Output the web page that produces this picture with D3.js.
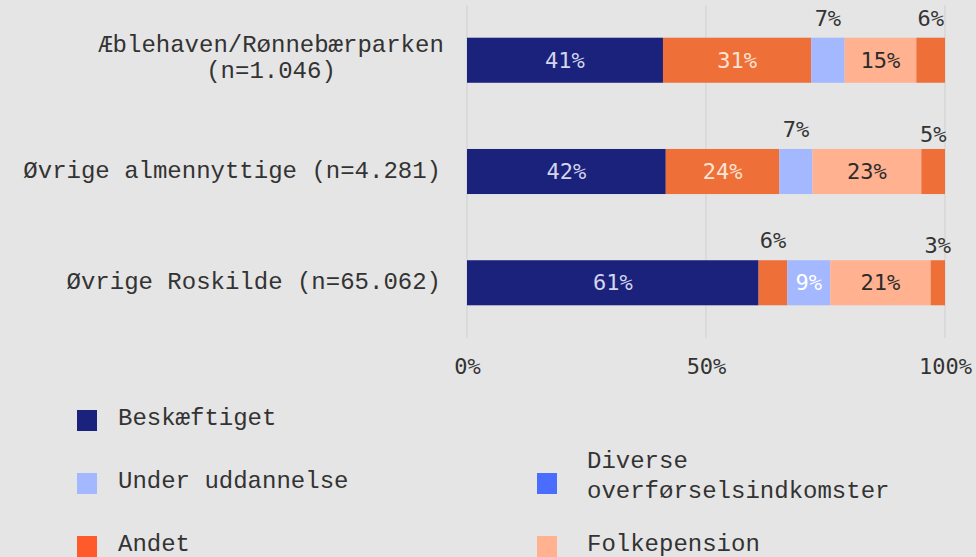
<!DOCTYPE html>
<html>
<head>
<meta charset="utf-8">
<script src="https://cdn.jsdelivr.net/npm/d3@7"></script>
<style>
  html, body { margin: 0; padding: 0; background: #e5e5e5; }
  svg { display: block; }
  text { font-family: "Courier New", "Liberation Mono", monospace; }
  .val { font-family: "DejaVu Sans Mono", "Liberation Mono", monospace; }
</style>
</head>
<body>
<div id="chart"></div>
<script>
const categories = [
  'Æblehaven/Rønnebærparken (n=1.046)',
  'Øvrige almennyttige (n=4.281)',
  'Øvrige Roskilde (n=65.062)'
];

// segment order in the bars (left to right)
const seriesKeys = ['Beskæftiget', 'Diverse overførselsindkomster', 'Under uddannelse', 'Folkepension', 'Andet'];
const beskaeftiget = [41, 42, 61];
const diverse = [31, 24, 6];
const underUddannelse = [7, 7, 9];
const folkepension = [15, 23, 21];
const andet = [6, 5, 3];

const tickValues = [0, 0.5, 1];

// bar colours as drawn, legend colours as shown in the key
const barColors = ['#1b227c', '#ee7038', '#a4b8ff', '#ffb190', '#ee7038'];
const insideTextColors = ['#d4d5ec', '#fde3d6', '#ffffff', '#2b2b2b', '#fde3d6'];
const legendItems = [
  {label: 'Beskæftiget', color: '#1b227c', row: 0, col: 0},
  {label: 'Under uddannelse', color: '#a4b8ff', row: 1, col: 0},
  {label: 'Diverse overførselsindkomster', color: '#4a6cff', row: 1, col: 1},
  {label: 'Andet', color: '#ff5a2c', row: 2, col: 0},
  {label: 'Folkepension', color: '#ffb190', row: 2, col: 1}
];

const width = 976, height = 557;

const rows = categories.map((c, i) => ({
  category: c,
  'Beskæftiget': beskaeftiget[i],
  'Diverse overførselsindkomster': diverse[i],
  'Under uddannelse': underUddannelse[i],
  'Folkepension': folkepension[i],
  'Andet': andet[i]
}));

const stacked = d3.stack()
  .keys(seriesKeys)
  .offset(d3.stackOffsetExpand)(rows);

const svg = d3.select('#chart').append('svg')
  .attr('width', width)
  .attr('height', height);

const x = d3.scaleLinear().domain([0, 1]).range([467, 945]);
const y = d3.scaleBand()
  .domain(categories)
  .range([5, 338])
  .paddingInner(0.595)
  .paddingOuter(0.294);

// gridlines
svg.append('g').selectAll('line')
  .data(tickValues)
  .join('line')
  .attr('x1', d => x(d)).attr('x2', d => x(d))
  .attr('y1', 5).attr('y2', 338)
  .attr('stroke', '#d3d3d3')
  .attr('stroke-width', 1.2);

// x axis
const axis = svg.append('g')
  .attr('transform', 'translate(0,355)')
  .call(d3.axisBottom(x).tickValues(tickValues).tickFormat(d => Math.round(d * 100) + '%').tickSize(0));
axis.select('.domain').remove();
axis.selectAll('text')
  .attr('class', 'val')
  .attr('font-size', 22)
  .attr('fill', '#333')
  .attr('dy', '0.71em');

// bars
const layer = svg.append('g').selectAll('g')
  .data(stacked)
  .join('g')
  .attr('fill', (d, i) => barColors[i]);

layer.selectAll('rect')
  .data(d => d)
  .join('rect')
  .attr('x', d => x(d[0]))
  .attr('y', d => y(d.data.category))
  .attr('width', d => x(d[1]) - x(d[0]))
  .attr('height', y.bandwidth());

// value labels: small segments get their label above the bar
const labels = [];
stacked.forEach((s, si) => {
  s.forEach(p => {
    const v = p.data[s.key];
    labels.push({v, si, cx: (x(p[0]) + x(p[1])) / 2, top: y(p.data.category), inside: v >= 8});
  });
});

svg.append('g').selectAll('text')
  .data(labels)
  .join('text')
  .attr('class', 'val')
  .attr('font-size', 22)
  .attr('text-anchor', 'middle')
  .attr('x', d => d.cx)
  .attr('y', d => d.inside ? d.top + y.bandwidth() / 2 : d.top - (d.si === 4 && d.v <= 5 ? 7 : 12))
  .attr('dy', d => d.inside ? '0.35em' : 0)
  .attr('fill', d => d.inside ? insideTextColors[d.si] : '#333')
  .text(d => d.v + '%');

// category labels
function wrap(str) {
  if (str.length <= 30) return [str];
  const k = str.lastIndexOf(' ');
  return [str.slice(0, k), str.slice(k + 1)];
}

const catG = svg.append('g').selectAll('text')
  .data(categories)
  .join('text')
  .attr('font-size', 24)
  .attr('fill', '#333');

catG.each(function (c) {
  const lines = wrap(c);
  const cy = y(c) + y.bandwidth() / 2;
  const t = d3.select(this);
  if (lines.length === 1) {
    t.attr('text-anchor', 'end').attr('x', 441).attr('y', cy + 6).text(c);
  } else {
    t.attr('text-anchor', 'middle').attr('x', 271);
    lines.forEach((l, i) => {
      t.append('tspan').attr('x', 271).attr('y', cy - 8 + i * 26).text(l);
    });
  }
});

// legend
const colX = [77, 537];
const textOff = [41, 50];
const rowY = [420, 483, 546];
const leg = svg.append('g').selectAll('g')
  .data(legendItems)
  .join('g')
  .attr('transform', d => `translate(${colX[d.col]},${rowY[d.row]})`);

leg.append('rect')
  .attr('x', 0).attr('y', -10)
  .attr('width', 20).attr('height', 21)
  .attr('fill', d => d.color);

leg.each(function (d) {
  const t = d3.select(this).append('text')
    .attr('font-size', 24)
    .attr('fill', '#333');
  const words = d.label.length > 20 ? d.label.split(' ') : [d.label];
  if (words.length === 1) {
    t.attr('x', textOff[d.col]).attr('y', 5).text(d.label);
  } else {
    words.forEach((w, i) => {
      t.append('tspan').attr('x', textOff[d.col]).attr('y', -15 + i * 30).text(w);
    });
  }
});
</script>
</body>
</html>
